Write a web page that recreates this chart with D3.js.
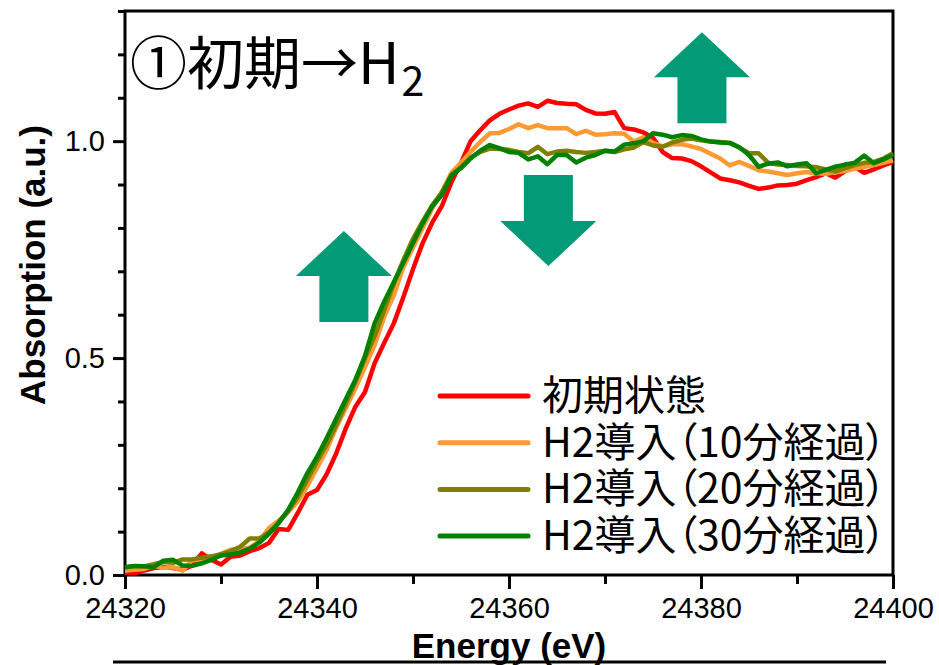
<!DOCTYPE html>
<html>
<head>
<meta charset="utf-8">
<script src="https://cdn.jsdelivr.net/npm/d3@7"></script>
<style>
  body { margin: 0; background: #fff; }
  svg { display: block; }
  .tick text { font-family: "Liberation Sans", Arial, sans-serif; font-size: 29px; fill: #000; }
  .axis-title { font-family: "Liberation Sans", Arial, sans-serif; font-size: 35px; font-weight: bold; }
  .jp { font-family: "Noto Sans CJK JP", sans-serif; }
  .legend text { font-feature-settings: "palt"; }
</style>
</head>
<body>
<div id="chart"></div>
<script>
// photon energy (eV), 1 eV steps
var energy = d3.range(24320, 24401, 1);

// normalised absorption for each condition
var initial = [0.005,0.004,0.010,0.016,0.018,0.016,0.012,0.022,0.050,0.035,
  0.024,0.042,0.045,0.055,0.062,0.074,0.106,0.104,0.143,0.185,
  0.196,0.232,0.280,0.338,0.388,0.422,0.488,0.535,0.580,0.641,
  0.705,0.765,0.812,0.850,0.905,0.950,1.000,1.025,1.048,1.063,
  1.073,1.082,1.087,1.079,1.093,1.088,1.086,1.085,1.072,1.064,
  1.063,1.067,1.030,1.027,1.020,1.008,0.975,0.961,0.960,0.954,
  0.942,0.928,0.914,0.910,0.905,0.897,0.890,0.893,0.898,0.899,
  0.902,0.910,0.917,0.926,0.916,0.931,0.941,0.927,0.935,0.944,
  0.952];
var h2_10min = [0.010,0.012,0.014,0.022,0.016,0.018,0.010,0.034,0.035,0.038,
  0.048,0.058,0.060,0.063,0.078,0.108,0.125,0.145,0.170,0.205,
  0.247,0.288,0.340,0.385,0.430,0.480,0.530,0.595,0.645,0.710,
  0.755,0.800,0.845,0.882,0.927,0.950,0.975,0.998,1.018,1.019,
  1.028,1.039,1.030,1.037,1.030,1.030,1.030,1.016,1.024,1.015,
  1.016,1.018,1.017,0.999,1.009,0.996,0.988,0.993,0.993,0.988,
  0.982,0.971,0.960,0.944,0.952,0.943,0.933,0.930,0.926,0.922,
  0.926,0.929,0.926,0.925,0.928,0.931,0.936,0.941,0.945,0.950,
  0.956];
var h2_20min = [0.018,0.020,0.020,0.025,0.030,0.028,0.036,0.036,0.040,0.043,
  0.048,0.055,0.065,0.084,0.084,0.098,0.120,0.148,0.180,0.220,
  0.262,0.300,0.345,0.395,0.445,0.500,0.550,0.611,0.672,0.726,
  0.775,0.815,0.852,0.882,0.922,0.940,0.962,0.975,0.983,0.982,
  0.980,0.975,0.972,0.987,0.970,0.976,0.978,0.975,0.973,0.975,
  0.978,0.975,0.981,0.985,0.998,0.990,0.987,0.997,1.003,1.006,
  1.002,0.999,0.998,0.996,0.985,0.972,0.972,0.950,0.946,0.945,
  0.943,0.942,0.940,0.935,0.930,0.938,0.945,0.950,0.952,0.960,
  0.972];
var h2_30min = [0.018,0.021,0.020,0.018,0.033,0.035,0.022,0.021,0.027,0.035,
  0.045,0.047,0.052,0.061,0.075,0.095,0.120,0.150,0.190,0.235,
  0.272,0.315,0.360,0.405,0.450,0.505,0.580,0.630,0.675,0.720,
  0.765,0.810,0.850,0.876,0.920,0.938,0.960,0.978,0.991,0.984,
  0.975,0.973,0.958,0.965,0.947,0.968,0.968,0.951,0.962,0.968,
  0.978,0.976,0.992,0.995,1.000,1.018,1.015,1.009,1.014,1.012,
  1.004,0.999,0.997,0.996,0.986,0.968,0.941,0.948,0.951,0.942,
  0.946,0.949,0.926,0.934,0.941,0.946,0.950,0.967,0.949,0.958,
  0.968];

var seriesNames = ["初期状態", "H2導入（10分経過）", "H2導入（20分経過）", "H2導入（30分経過）"];
var seriesValues = [initial, h2_10min, h2_20min, h2_30min];
var seriesColors = ["#ff0000", "#ff9933", "#808000", "#008000"];

var xTicks = [24320, 24340, 24360, 24380, 24400];
var yTicks = [0.0, 0.5, 1.0];

// annotation arrows: tip position in data units
var arrows = [
  { e: 24342.8, v: 0.793, dir: "up" },
  { e: 24364.1, v: 0.712, dir: "down" },
  { e: 24380.1, v: 1.251, dir: "up" }
];

var W = 939, H = 665;
var margin = { top: 11, right: 46, bottom: 90, left: 125 };
var width = W - margin.left - margin.right,
    height = H - margin.top - margin.bottom;

var svg = d3.select("#chart").append("svg")
    .attr("width", W)
    .attr("height", H);

var g = svg.append("g")
    .attr("transform", "translate(" + margin.left + "," + margin.top + ")");

var x = d3.scaleLinear().domain([24320, 24400]).range([0, width]);
var y = d3.scaleLinear().domain([0, 1.3]).range([height, 0]);

// minor ticks first
g.append("g")
    .attr("transform", "translate(0," + height + ")")
    .call(d3.axisBottom(x).tickValues(d3.range(24330, 24400, 20)).tickSize(9).tickFormat(""))
    .call(function (s) { s.select(".domain").remove(); })
    .selectAll("line").attr("stroke-width", 3);

g.append("g")
    .call(d3.axisLeft(y).tickValues([0.1, 0.2, 0.3, 0.4, 0.6, 0.7, 0.8, 0.9, 1.1, 1.2, 1.3]).tickSize(7).tickFormat(""))
    .call(function (s) { s.select(".domain").remove(); })
    .selectAll("line").attr("stroke-width", 3);

// major axes
var xAxis = g.append("g")
    .attr("transform", "translate(0," + height + ")")
    .call(d3.axisBottom(x).tickValues(xTicks).tickSize(14).tickPadding(8).tickFormat(d3.format("d")));
xAxis.select(".domain").remove();
xAxis.selectAll("line").attr("stroke-width", 3);

var yAxis = g.append("g")
    .call(d3.axisLeft(y).tickValues(yTicks).tickSize(12).tickPadding(8).tickFormat(d3.format(".1f")));
yAxis.select(".domain").remove();
yAxis.selectAll("line").attr("stroke-width", 3);

// frame
g.append("rect")
    .attr("width", width)
    .attr("height", height)
    .attr("fill", "none")
    .attr("stroke", "#000")
    .attr("stroke-width", 3);

// arrows (fixed pixel shape, anchored by data position)
function arrowPath(d) {
    var cx = x(d.e), ty = y(d.v), s = d.dir === "up" ? 1 : -1;
    var hw = 48, hh = 45, sw = 24.5, len = 91;
    return "M" + cx + "," + ty +
        "L" + (cx + hw) + "," + (ty + s * hh) +
        "L" + (cx + sw) + "," + (ty + s * hh) +
        "L" + (cx + sw) + "," + (ty + s * len) +
        "L" + (cx - sw) + "," + (ty + s * len) +
        "L" + (cx - sw) + "," + (ty + s * hh) +
        "L" + (cx - hw) + "," + (ty + s * hh) + "Z";
}
g.selectAll(".arrow")
    .data(arrows)
    .enter().append("path")
    .attr("class", "arrow")
    .attr("d", arrowPath)
    .attr("fill", "#039a77");

// spectra
var line = d3.line()
    .x(function (d, i) { return x(energy[i]); })
    .y(function (d) { return y(d); });

g.selectAll(".spectrum")
    .data(seriesValues)
    .enter().append("path")
    .attr("class", "spectrum")
    .attr("d", line)
    .attr("fill", "none")
    .attr("stroke", function (d, i) { return seriesColors[i]; })
    .attr("stroke-width", 4.5)
    .attr("stroke-linejoin", "round");

// panel title
var title = g.append("text")
    .attr("class", "jp")
    .attr("x", 5)
    .attr("y", 73)
    .attr("font-size", 57)
    .text("①初期→H");
title.append("tspan")
    .attr("font-size", 41)
    .attr("dx", 2)
    .attr("dy", 12)
    .text("2");

// legend
var legend = g.selectAll(".legend")
    .data(seriesNames)
    .enter().append("g")
    .attr("class", "legend")
    .attr("transform", function (d, i) { return "translate(315," + (385 + i * 46.7) + ")"; });
legend.append("line")
    .attr("x1", 0).attr("x2", 88)
    .attr("stroke", function (d, i) { return seriesColors[i]; })
    .attr("stroke-width", 5)
    .attr("stroke-linecap", "round");
legend.append("text")
    .attr("class", "jp")
    .attr("x", 102)
    .attr("y", 14)
    .attr("font-size", 41)
    .text(function (d) { return d; });

// axis titles
svg.append("text")
    .attr("class", "axis-title")
    .attr("text-anchor", "middle")
    .attr("transform", "translate(45,265) rotate(-90)")
    .text("Absorption (a.u.)");

svg.append("text")
    .attr("class", "axis-title")
    .attr("text-anchor", "middle")
    .attr("x", margin.left + width / 2)
    .attr("y", 658)
    .text("Energy (eV)");

// top edge of the panel below
svg.append("line")
    .attr("x1", 113).attr("x2", 886)
    .attr("y1", 662).attr("y2", 662)
    .attr("stroke", "#000")
    .attr("stroke-width", 3);
</script>
</body>
</html>
